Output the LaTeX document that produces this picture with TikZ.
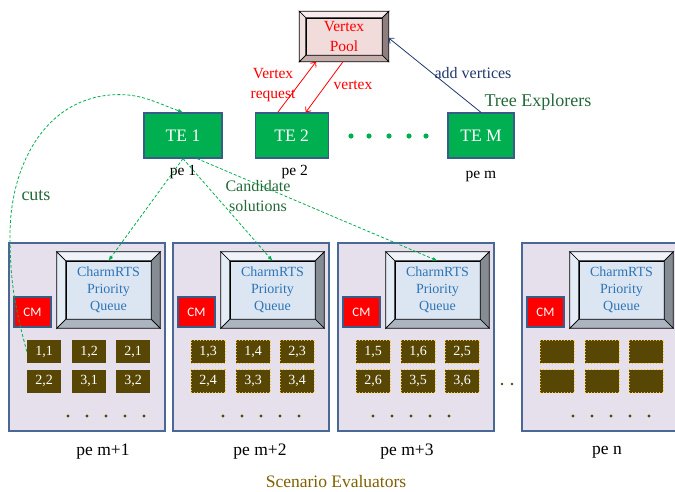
\documentclass[tikz,border=0pt]{standalone}
\usepackage{fontspec}
\setmainfont{Liberation Serif}
\newfontfamily\cmfont{Carlito}
\usetikzlibrary{positioning,arrows.meta}

\definecolor{tegreen}{RGB}{0,176,80}
\definecolor{teborder}{RGB}{56,93,138}
\definecolor{labelgreen}{RGB}{35,105,55}
\definecolor{navy}{RGB}{32,56,110}
\definecolor{boxfill}{RGB}{230,224,236}
\definecolor{boxborder}{RGB}{74,104,150}
\definecolor{qface}{RGB}{220,230,242}
\definecolor{qtop}{RGB}{240,244,250}
\definecolor{qleft}{RGB}{228,236,246}
\definecolor{qright}{RGB}{134,140,148}
\definecolor{qbottom}{RGB}{172,180,192}
\definecolor{qtext}{RGB}{46,117,182}
\definecolor{pface}{RGB}{242,220,219}
\definecolor{ptop}{RGB}{248,236,236}
\definecolor{pleft}{RGB}{240,224,223}
\definecolor{pright}{RGB}{142,126,126}
\definecolor{pbottom}{RGB}{196,174,172}
\definecolor{cellfill}{RGB}{88,70,5}
\definecolor{cellrim}{RGB}{255,192,0}
\definecolor{evalbrown}{RGB}{127,96,0}

\tikzstyle{te} = [draw=teborder, fill=tegreen, rectangle, line width=1.2pt,
    text=white, minimum height=45pt, font=\fontsize{17.5}{20}\selectfont]
\tikzstyle{pe} = [font=\fontsize{15.5}{18}\selectfont]
\tikzstyle{pool} = [draw, fill=pface, rectangle, minimum width=76pt, minimum height=37pt,
    inner sep=0pt, align=center, text=red, font=\fontsize{15.5}{20}\selectfont]
\tikzstyle{evalbox} = [draw=boxborder, fill=boxfill, rectangle, line width=1.2pt,
    minimum width=156pt, minimum height=188pt]
\tikzstyle{queue} = [draw, fill=qface, rectangle, minimum width=85pt, minimum height=58pt,
    inner sep=0pt, align=center, text=qtext, font=\fontsize{14}{17}\selectfont]
\tikzstyle{cmbox} = [draw=teborder, fill=red, line width=1.2pt, minimum width=37pt,
    minimum height=30pt, text=white, font=\cmfont\fontsize{13}{15}\selectfont]
\tikzstyle{cellA} = [fill=cellfill, minimum width=34pt, minimum height=23pt, inner sep=0pt,
    text=white, font=\fontsize{14}{16}\selectfont]
\tikzstyle{cellB} = [cellA, draw=cellrim, dotted, line width=1pt]
\tikzstyle{fetch} = [draw=red, line width=0.8pt, -{Straight Barb[length=4pt,width=7pt]}]
\tikzstyle{cand} = [draw=tegreen, line width=0.8pt, dash pattern=on 3pt off 2pt,
    -{Latex[length=5pt,width=4pt]}]
\tikzstyle{note} = [text=labelgreen, align=center, font=\fontsize{16}{20}\selectfont]

% raised rim round a face node: depth, then top/left/right/bottom colours
\newcommand{\bevelrim}[6]{%
  \path (#1.north west) ++(-#2,#2) coordinate (#1-tl)
        (#1.north east) ++(#2,#2) coordinate (#1-tr)
        (#1.south east) ++(#2,-#2) coordinate (#1-br)
        (#1.south west) ++(-#2,-#2) coordinate (#1-bl);
  \filldraw[fill=#3, line width=0.7pt] (#1-tl) -- (#1-tr) -- (#1.north east) -- (#1.north west) -- cycle;
  \filldraw[fill=#4, line width=0.7pt] (#1-tl) -- (#1.north west) -- (#1.south west) -- (#1-bl) -- cycle;
  \filldraw[fill=#5, line width=0.7pt] (#1-tr) -- (#1-br) -- (#1.south east) -- (#1.north east) -- cycle;
  \filldraw[fill=#6, line width=0.7pt] (#1-bl) -- (#1.south west) -- (#1.south east) -- (#1-br) -- cycle;
}

\begin{document}
\begin{tikzpicture}[x=1pt, y=1pt]
    \useasboundingbox (0,0) rectangle (675,-491);

    \node [pool] (pool) at (344,-36.5) {Vertex\\Pool};
    \bevelrim{pool}{6.5}{ptop}{pleft}{pright}{pbottom}

    \node [te, minimum width=78pt] (te1) at (183,-135.5) {TE 1};
    \node [te, minimum width=73pt, right=32pt of te1] (te2) {TE 2};
    \node [te, minimum width=66pt] (tem) at (481,-135.5) {TE M};
    \node [pe, below of=te1, node distance=36.5pt] (pe1) {pe 1};
    \node [pe, below of=te2, node distance=36.5pt, xshift=3pt] (pe2) {pe 2};
    \node [pe, below of=tem, node distance=40.5pt] (pem) {pe m};
    \foreach \x in {351,369,389,409,426}
        \fill [tegreen] (\x,-136) circle (2.6);

    \draw [fetch] ([xshift=-14pt]te2.north) -- ([xshift=-28pt,yshift=-6.5pt]pool.south);
    \draw [fetch] ([xshift=-1pt,yshift=-6.5pt]pool.south) -- ([xshift=14pt]te2.north);
    \draw [draw=navy, line width=0.8pt, -{Straight Barb[length=4pt,width=7pt]}]
        (tem.north) -- ([xshift=6.5pt,yshift=-1.5pt]pool.east);
    \node [text=red, align=center, font=\fontsize{15.5}{20}\selectfont] (reqlabel) at (273,-85) {Vertex\\request};
    \node [text=red, font=\fontsize{15.5}{18}\selectfont] (vlabel) at (353,-85) {vertex};
    \node [text=navy, font=\fontsize{16}{18}\selectfont] (addlabel) at (473,-73) {add vertices};
    \node [note, font=\fontsize{18}{20}\selectfont] (telabel) at (538,-102) {Tree Explorers};

    \foreach \k/\L/\cs/\ds/\lab/\px in {1/9/cellA/59/m+1/103, 2/173/cellB/50/m+2/260,
                                        3/338/cellB/35/m+3/407, 4/522/cellB/51/n/607} {
        \node [evalbox] (se\k) at (\L+78,-337) {};
        \node [queue] (pq\k) at (\L+99.5,-290) {CharmRTS\\Priority\\Queue};
        \bevelrim{pq\k}{9}{qtop}{qleft}{qright}{qbottom}
        \node [cmbox] (cm\k) at (\L+23.5,-312) {CM};
        \foreach \cx/\cy/\r/\s [count=\j] in {35/351.5/1/0, 80/351.5/1/1, 124/351.5/2/0,
                                             35/381/2/1, 80/381/3/0, 124/381/3/1} {
            \pgfmathtruncatemacro\n{2*\k-1+\s}
            \node [\cs] (c\k\j) at (\L+\cx,-\cy) {\ifnum\k<4 \r,\n\fi};
        }
        \foreach \d in {0,...,4}
            \fill [cellfill] (\L+\ds+19*\d,-416) circle (1.6);
        \node [pe, font=\fontsize{17.5}{20}\selectfont] (pl\k) at (\px,-452) {pe \lab};
    }
    \fill [cellfill] (502,-384) circle (1.3) (512,-384) circle (1.3);
    \node [text=evalbrown, inner sep=1pt, font=\fontsize{17.5}{20}\selectfont] (selabel) at (336,-482) {Scenario Evaluators};

    \draw [cand] (te1.south) -- (pq1.north);
    \draw [cand] (te1.south) -- (pq2.north);
    \draw [cand] ([xshift=14pt]te1.south) -- (pq3.north);
    \draw [cand] (c11.west) to[out=105,in=-90] (10,-235) to[out=90,in=185] (110,-95)
        to[out=5,in=160] (te1.north);
    \node [note] (candlabel) at (258,-196) {Candidate\\solutions};
    \node [note, font=\fontsize{18}{20}\selectfont] (cutslabel) at (36,-196) {cuts};
\end{tikzpicture}
\end{document}
